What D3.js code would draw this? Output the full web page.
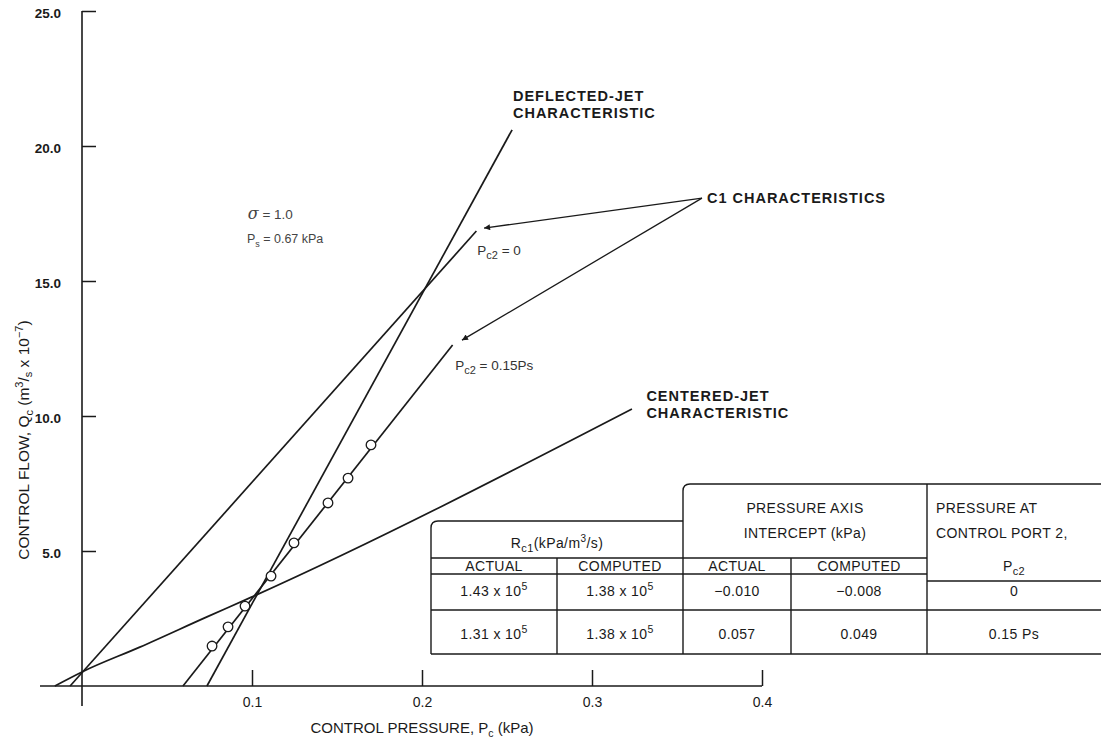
<!DOCTYPE html>
<html>
<head>
<meta charset="utf-8">
<script src="https://cdn.jsdelivr.net/npm/d3@7"></script>
<style>
  html, body { margin: 0; padding: 0; background: #fff; }
  svg text { font-family: "Liberation Sans", Arial, Helvetica, sans-serif; fill: #1a1a1a; }
</style>
</head>
<body>
<svg id="chart" width="1101" height="741"></svg>
<script>
// ---------- data ----------
const xTicks = [0.1, 0.2, 0.3, 0.4];
const xTickLabels = ["0.1", "0.2", "0.3", "0.4"];
const yTicks = [5, 10, 15, 20, 25];
const yTickLabels = ["5.0", "10.0", "15.0", "20.0", "25.0"];

// characteristic lines: [P (kPa), Q (x1e-7 m3/s)]
const deflectedJet = [[0.0735, 0], [0.253, 20.6]];
const centeredJet = [[-0.016, 0], [0, 0.52], [0.034, 1.44], [0.0735, 2.56], [0.1, 3.3], [0.3235, 10.26]];
const c1Pc2Zero = [[-0.007, 0], [0.232, 16.85]];
const c1Pc2Frac = [[0.0594, 0], [0.218, 12.63]];

// measured points (Pc2 = 0.15 Ps)
const measuredP = [0.0765, 0.0859, 0.0959, 0.1112, 0.1247, 0.1447, 0.1565, 0.1700];
const measuredQ = [1.48, 2.19, 2.96, 4.07, 5.30, 6.78, 7.70, 8.93];

// annotation anchors (data coords)
const c1LabelAnchor = [0.3647, 18.07];
const c1ArrowTips = [[0.2365, 16.96], [0.2235, 12.81]];

// table content
const tableRow1 = ["1.43 x 10|5", "1.38 x 10|5", "\u22120.010", "\u22120.008", "0"];
const tableRow2 = ["1.31 x 10|5", "1.38 x 10|5", "0.057", "0.049", "0.15 Ps"];
const tableSubHeads = ["ACTUAL", "COMPUTED", "ACTUAL", "COMPUTED"];

// ---------- drawing ----------
const svg = d3.select("#chart");
const x = d3.scaleLinear().domain([0, 0.4]).range([82, 762]);
const y = d3.scaleLinear().domain([0, 25]).range([686, 11]);
const ink = "#1a1a1a";

// axes
const xAxis = d3.axisBottom(x).tickValues(xTicks).tickSize(-16).tickFormat((d, i) => xTickLabels[i]).tickPadding(20);
const gx = svg.append("g").attr("transform", `translate(0,${y(0)})`).call(xAxis);
gx.select(".domain").remove();
gx.selectAll(".tick line").attr("stroke", ink).attr("stroke-width", 1.5);
gx.selectAll(".tick text").attr("font-size", 14).attr("fill", ink).attr("dy", "0.1em");
svg.append("line").attr("x1", 40).attr("x2", x(0.4)).attr("y1", y(0)).attr("y2", y(0))
  .attr("stroke", ink).attr("stroke-width", 1.6);

const yAxis = d3.axisLeft(y).tickValues(yTicks).tickSize(-14).tickFormat((d, i) => yTickLabels[i]).tickPadding(21);
const gy = svg.append("g").attr("transform", `translate(${x(0)},0)`).call(yAxis);
gy.select(".domain").remove();
gy.selectAll(".tick line").attr("stroke", ink).attr("stroke-width", 1.5);
gy.selectAll(".tick text").attr("font-size", 13.5).attr("font-weight", "bold").attr("fill", "#222").attr("dy", "0.45em");
svg.append("line").attr("x1", x(0)).attr("x2", x(0)).attr("y1", y(25)).attr("y2", 706)
  .attr("stroke", ink).attr("stroke-width", 1.6);

// axis titles
const xt = svg.append("text").attr("x", x(0.2)).attr("y", 733).attr("text-anchor", "middle").attr("font-size", 15);
xt.append("tspan").text("CONTROL PRESSURE, P");
xt.append("tspan").attr("font-size", 10.5).attr("dy", 4).text("c");
xt.append("tspan").attr("dy", -4).text(" (kPa)");

const yt = svg.append("text").attr("transform", "translate(29,440) rotate(-90)").attr("text-anchor", "middle").attr("font-size", 15.5);
yt.append("tspan").text("CONTROL FLOW, Q");
yt.append("tspan").attr("font-size", 11).attr("dy", 4).text("c");
yt.append("tspan").attr("dy", -4).text(" (m");
yt.append("tspan").attr("font-size", 11).attr("dy", -6).text("3");
yt.append("tspan").attr("dy", 6).text("/");
yt.append("tspan").attr("font-size", 11).attr("dy", 3).text("s");
yt.append("tspan").attr("dy", -3).text(" x 10");
yt.append("tspan").attr("font-size", 11).attr("dy", -6).text("\u22127");
yt.append("tspan").attr("dy", 6).text(")");

// lines
const line = d3.line().x(d => x(d[0])).y(d => y(d[1]));
const curve = d3.line().x(d => x(d[0])).y(d => y(d[1])).curve(d3.curveMonotoneX);
[deflectedJet, c1Pc2Zero, c1Pc2Frac].forEach(s => {
  svg.append("path").attr("d", line(s)).attr("fill", "none").attr("stroke", ink).attr("stroke-width", 1.7);
});
svg.append("path").attr("d", curve(centeredJet)).attr("fill", "none").attr("stroke", ink).attr("stroke-width", 1.7);

// points
svg.selectAll("circle.pt").data(measuredP).join("circle")
  .attr("class", "pt")
  .attr("cx", d => x(d)).attr("cy", (d, i) => y(measuredQ[i])).attr("r", 4.8)
  .attr("fill", "#fff").attr("stroke", ink).attr("stroke-width", 1.3);

// arrows
svg.append("defs").append("marker").attr("id", "ah").attr("viewBox", "0 0 10 10")
  .attr("refX", 10).attr("refY", 5).attr("markerWidth", 10).attr("markerHeight", 6)
  .attr("orient", "auto").attr("markerUnits", "userSpaceOnUse")
  .append("path").attr("d", "M0,0 L10,5 L0,10 z").attr("fill", ink);
c1ArrowTips.forEach(t => {
  svg.append("line").attr("x1", x(c1LabelAnchor[0])).attr("y1", y(c1LabelAnchor[1]))
    .attr("x2", x(t[0])).attr("y2", y(t[1])).attr("stroke", ink).attr("stroke-width", 1.3)
    .attr("marker-end", "url(#ah)");
});

// bold labels
function boldLabel(lines, px, py, dy) {
  lines.forEach((t, i) => {
    svg.append("text").attr("x", px).attr("y", py + i * dy).attr("font-size", 14.5)
      .attr("font-weight", "bold").attr("letter-spacing", 1).text(t);
  });
}
boldLabel(["DEFLECTED-JET", "CHARACTERISTIC"], x(0.2535), 101, 17);
boldLabel(["C1 CHARACTERISTICS"], x(0.3676), 203, 0);
boldLabel(["CENTERED-JET", "CHARACTERISTIC"], x(0.332), 401, 17);

// small gray annotations
const sig = svg.append("text").attr("x", x(0.0975)).attr("y", 219).attr("font-size", 13.5).style("fill", "#444");
sig.append("tspan").attr("font-style", "italic").attr("font-family", "DejaVu Serif").attr("font-size", 16).text("\u03c3");
sig.append("tspan").text(" = 1.0");
const ps = svg.append("text").attr("x", x(0.097)).attr("y", 243).attr("font-size", 12.5).style("fill", "#444");
ps.append("tspan").text("P");
ps.append("tspan").attr("font-size", 9).attr("dy", 4).text("s");
ps.append("tspan").attr("dy", -4).text(" = 0.67 kPa");

function pc2Label(px, py, rest) {
  const t = svg.append("text").attr("x", x(px)).attr("y", py).attr("font-size", 13.5).style("fill", "#333");
  t.append("tspan").text("P");
  t.append("tspan").attr("font-size", 11).attr("dy", 4).text("c2");
  t.append("tspan").attr("dy", -4).text(rest);
}
pc2Label(0.2325, 255, " = 0");
pc2Label(0.2195, 370, " = 0.15Ps");

// ---------- table ----------
const T = svg.append("g").attr("fill", "none").attr("stroke", ink).attr("stroke-width", 1.4);
const colEdges = [431, 557, 683, 791, 927, 1101];
const topLeft = 521, topMid = 484, hLine1 = 558, hLine2 = 574, hLineR = 581, rowDiv = 610, bottom = 654;
const r = 7;
T.append("path").attr("d", `M${colEdges[0]},${bottom} L${colEdges[0]},${topLeft + r} Q${colEdges[0]},${topLeft} ${colEdges[0] + r},${topLeft} L${colEdges[2]},${topLeft}`);
T.append("path").attr("d", `M${colEdges[2]},${bottom} L${colEdges[2]},${topMid + r} Q${colEdges[2]},${topMid} ${colEdges[2] + r},${topMid} L${colEdges[5]},${topMid}`);
[[colEdges[0], colEdges[4], hLine1], [colEdges[0], colEdges[4], hLine2], [colEdges[4], colEdges[5], hLineR],
 [colEdges[0], colEdges[5], rowDiv], [colEdges[0], colEdges[5], bottom]].forEach(l => {
  T.append("line").attr("x1", l[0]).attr("x2", l[1]).attr("y1", l[2]).attr("y2", l[2]);
});
[[colEdges[1], hLine1], [colEdges[3], hLine1], [colEdges[4], topMid]].forEach(v => {
  T.append("line").attr("x1", v[0]).attr("x2", v[0]).attr("y1", v[1]).attr("y2", bottom);
});

const tt = svg.append("g").attr("font-size", 14).attr("letter-spacing", 0.4).attr("text-anchor", "middle");
const colCenters = d3.range(5).map(i => (colEdges[i] + colEdges[i + 1]) / 2);
// header
const rc = tt.append("text").attr("x", (colEdges[0] + colEdges[2]) / 2).attr("y", 548);
rc.append("tspan").text("R");
rc.append("tspan").attr("font-size", 11).attr("dy", 4).text("c1");
rc.append("tspan").attr("dy", -4).text("(kPa/m");
rc.append("tspan").attr("font-size", 10).attr("dy", -6).text("3");
rc.append("tspan").attr("dy", 6).text("/s)");
tt.append("text").attr("x", (colEdges[2] + colEdges[4]) / 2).attr("y", 513).text("PRESSURE AXIS");
tt.append("text").attr("x", (colEdges[2] + colEdges[4]) / 2).attr("y", 538).text("INTERCEPT (kPa)");
tt.append("text").attr("x", colEdges[4] + 9).attr("y", 513).attr("text-anchor", "start").text("PRESSURE AT");
tt.append("text").attr("x", colEdges[4] + 9).attr("y", 538).attr("text-anchor", "start").text("CONTROL PORT 2,");
const pc = tt.append("text").attr("x", colCenters[4]).attr("y", 571);
pc.append("tspan").text("P");
pc.append("tspan").attr("font-size", 11).attr("dy", 4).text("c2");
tableSubHeads.forEach((h, i) => tt.append("text").attr("x", colCenters[i]).attr("y", 571).text(h));

function cell(txt, cx, cy) {
  const t = tt.append("text").attr("x", cx).attr("y", cy);
  const parts = txt.split("|");
  t.append("tspan").text(parts[0]);
  if (parts.length > 1) t.append("tspan").attr("font-size", 10.5).attr("dy", -6).text(parts[1]);
}
tableRow1.forEach((v, i) => cell(v, colCenters[i], 596));
tableRow2.forEach((v, i) => cell(v, colCenters[i], 639));
</script>
</body>
</html>
